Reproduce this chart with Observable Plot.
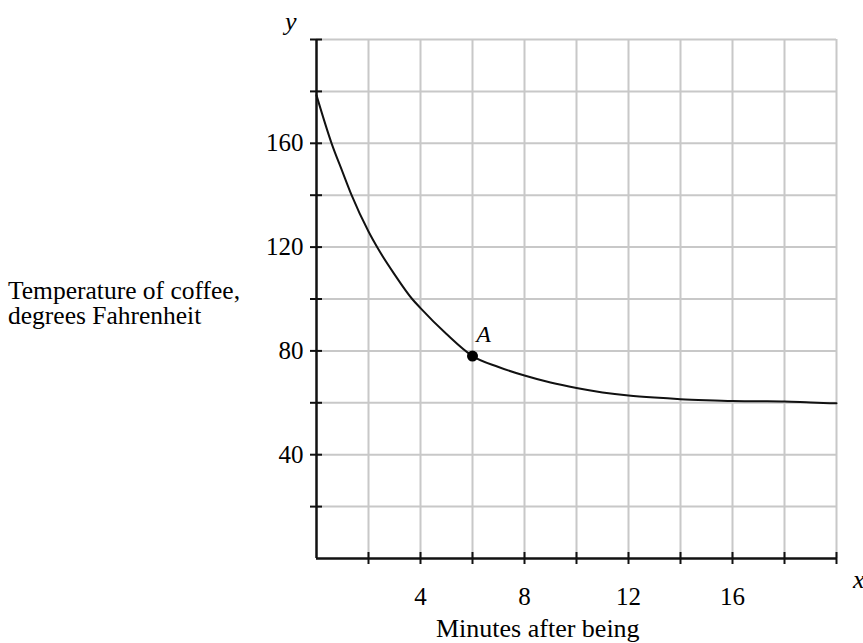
<!DOCTYPE html>
<html>
<head>
<meta charset="utf-8">
<script src="https://cdn.jsdelivr.net/npm/d3@7"></script>
<script src="https://cdn.jsdelivr.net/npm/@observablehq/plot@0.6"></script>
<style>
  html, body { margin: 0; padding: 0; background: #fff; overflow: hidden; }
  #wrap { position: relative; width: 863px; height: 643px; overflow: hidden; font-family: "Liberation Serif", "Times New Roman", serif; color: #000; }
  #chart { position: absolute; left: 0; top: 0; }
  .lbl { position: absolute; font-size: 26px; line-height: 24px; white-space: nowrap; }
  .it { font-style: italic; }
</style>
</head>
<body>
<div id="wrap">
  <div id="chart"></div>
  <div class="lbl" style="left:8px; top:279px; font-size:25.5px;">Temperature of coffee,</div>
  <div class="lbl" style="left:8px; top:304px; font-size:25.5px;">degrees Fahrenheit</div>
  <div class="lbl it" style="left:285px; top:10px;">y</div>
  <div class="lbl it" style="left:853px; top:568px;">x</div>
  <div class="lbl" style="left:436px; top:617px;">Minutes after being</div>
</div>
<script>
// Minutes (x) and temperature (y)
const minutes = [0, 0.58, 1, 1.35, 2, 2.33, 3, 3.68, 4, 5, 6, 7, 8, 9, 10, 11, 12, 13, 14, 15, 16, 17, 18, 19, 20];
const temps   = [178.5, 160, 149, 140, 126, 120, 109.5, 100, 96.5, 86.5, 78, 73.8, 70.5, 67.8, 65.7, 64, 62.8, 62, 61.4, 61, 60.7, 60.6, 60.5, 60.1, 59.8];

const pointA = [{minute: 6, temp: 78, name: "A"}];

const xGrid = [2, 4, 6, 8, 10, 12, 14, 16, 18, 20];
const yGrid = [20, 40, 60, 80, 100, 120, 140, 160, 180, 200];
const xLabels = [4, 8, 12, 16];
const yLabels = [40, 80, 120, 160];

const data = minutes.map((m, i) => ({minute: m, temp: temps[i]}));
const font = "Liberation Serif, Times New Roman, serif";
const noText = () => "";

const chart = Plot.plot({
  width: 863,
  height: 643,
  marginLeft: 316,
  marginRight: 27,
  marginTop: 39,
  marginBottom: 85,
  style: {fontFamily: font, background: "#fff", overflow: "visible"},
  x: {domain: [0, 20], label: null},
  y: {domain: [0, 200], label: null},
  marks: [
    Plot.gridX(xGrid, {stroke: "#c8c8c8", strokeOpacity: 1, strokeWidth: 2}),
    Plot.gridY(yGrid, {stroke: "#c8c8c8", strokeOpacity: 1, strokeWidth: 2}),
    Plot.ruleX([0], {stroke: "#111", strokeWidth: 2.5}),
    Plot.ruleY([0], {stroke: "#111", strokeWidth: 2.5}),
    Plot.axisY({ticks: yGrid, tickSize: 12, dx: 6, tickFormat: noText, stroke: "#111", strokeWidth: 2, label: null}),
    Plot.axisX({ticks: xGrid, tickSize: 12, dy: -6, tickFormat: noText, stroke: "#111", strokeWidth: 2, label: null}),
    Plot.axisY({ticks: yLabels, tickSize: 0, tickPadding: 13, fontSize: 25, fill: "#000", label: null}),
    Plot.axisX({ticks: xLabels, tickSize: 0, tickPadding: 29, fontSize: 25, fill: "#000", label: null}),
    Plot.line(data, {x: "minute", y: "temp", curve: "monotone-x", stroke: "#111", strokeWidth: 2}),
    Plot.dot(pointA, {x: "minute", y: "temp", r: 5.5, fill: "#000", stroke: "none"}),
    Plot.text(pointA, {x: "minute", y: "temp", text: "name", dx: 11, dy: -22, fontSize: 24, fontStyle: "italic", fill: "#000"})
  ]
});
document.getElementById("chart").appendChild(chart);
</script>
</body>
</html>
